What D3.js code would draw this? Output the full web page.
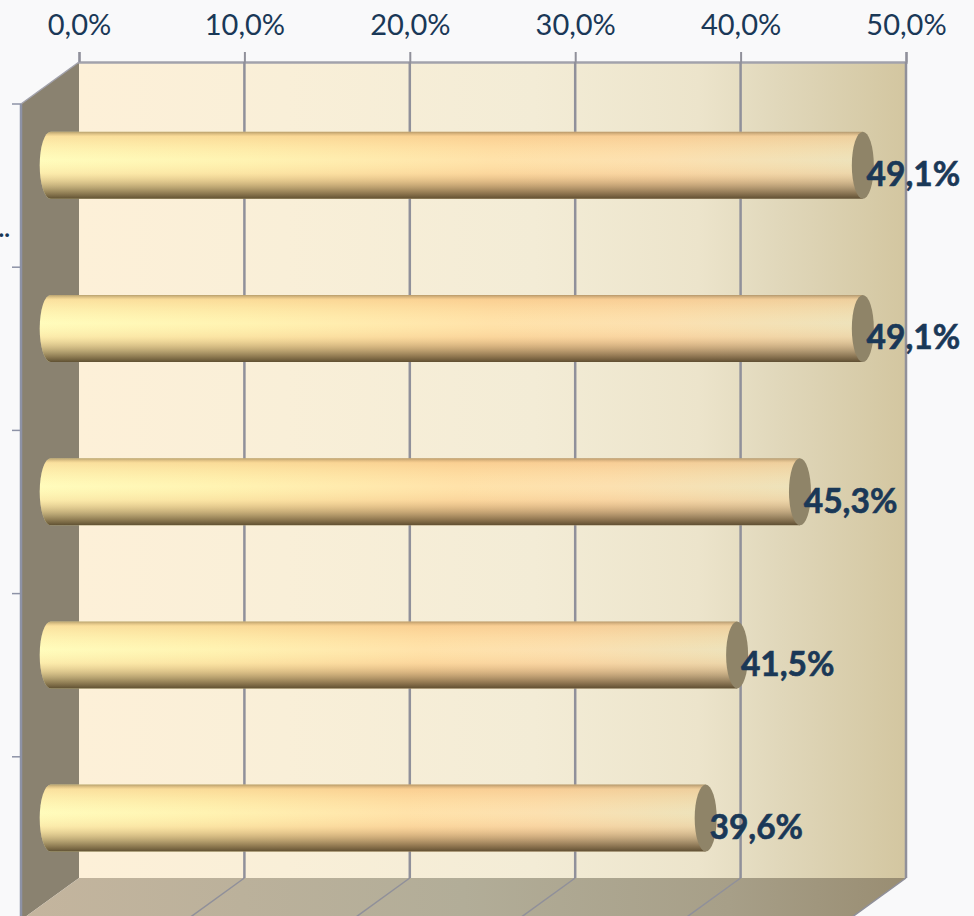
<!DOCTYPE html>
<html>
<head>
<meta charset="utf-8">
<script src="https://cdn.jsdelivr.net/npm/d3@7"></script>
<style>
	html, body { margin: 0; padding: 0; background: #f9f9fa; overflow: hidden; }
	svg { display: block; }
	text { font-family: Lato, "Open Sans", sans-serif; fill: #1a3857; }
</style>
</head>
<body>
<div class="svg-container"></div>
<script>
(function () {

	"use strict";

	// data
	var categories = [ "a", "b", "c", "d", "e" ];
	var category_labels = [ "..", "", "", "", "" ];
	var values = [ 49.1, 49.1, 45.3, 41.5, 39.6 ];
	var axis_ticks = [ 0, 10, 20, 30, 40, 50 ];

	// layout
	var width = 974, height = 916;
	var plot = { left: 79, right: 906, top: 62, bottom: 878 };
	var depth = { x: -58, y: 42 };
	var bar_half = 33.5, cap_rx = 11;
	var grid_color = "#90909a";

	var locale = d3.formatLocale({ decimal: ",", thousands: ".", grouping: [3], currency: ["", ""] });
	var fmt = locale.format(".1f");

	var svg = d3.select(".svg-container").append("svg")
		.attr("width", width)
		.attr("height", height);

	var x = d3.scaleLinear().domain([0, 50]).range([plot.left, plot.right]);
	var y = d3.scaleBand().domain(categories).range([plot.top, plot.bottom]);

	// gradients
	var defs = svg.append("defs");

	function gradient ( id, x2, y2, stops ) {
		var g = defs.append("linearGradient")
			.attr("id", id)
			.attr("x1", 0).attr("y1", 0)
			.attr("x2", x2).attr("y2", y2);
		stops.forEach(function ( s ) {
			var st = g.append("stop").attr("offset", s[0]).attr("stop-color", s[1]);
			if ( s[2] !== undefined ) st.attr("stop-opacity", s[2]);
		});
	}

	gradient("wall", 1, 0, [
		[0, "#fdf0d8"], [.25, "#f9efd8"], [.55, "#f3ecd6"], [.75, "#ece4cb"], [.85, "#e0d7ba"], [1, "#d3c6a0"]
	]);
	gradient("floor", 1, 0, [
		[0, "#c4b59e"], [.5, "#b2ad98"], [.8, "#a79f88"], [1, "#998d72"]
	]);
	gradient("tube_h", 1, 0, [
		[0, "#fffcbc"], [.25, "#fff3b2"], [.55, "#ffe2aa"], [.75, "#fce0b0"], [1, "#ede2bb"]
	]);
	gradient("tube_v", 0, 1, [
		[0, "#8a6a40", .62], [.07, "#f0a860", .32], [.42, "#ffcf80", 0], [.62, "#e8a060", .18],
		[.85, "#6a4a28", .52], [1, "#4a3a20", .88]
	]);

	// walls
	svg.append("rect")
		.attr("x", plot.left).attr("y", plot.top)
		.attr("width", plot.right - plot.left).attr("height", plot.bottom - plot.top)
		.attr("fill", "url(#wall)");

	svg.append("path")
		.attr("d", d3.line()([
			[plot.left, plot.top], [plot.left, plot.bottom],
			[plot.left + depth.x, plot.bottom + depth.y], [plot.left + depth.x, plot.top + depth.y]
		]) + "Z")
		.attr("fill", "#8a8270");

	svg.append("path")
		.attr("d", d3.line()([
			[plot.left, plot.bottom], [plot.right, plot.bottom],
			[plot.right + depth.x, plot.bottom + depth.y], [plot.left + depth.x, plot.bottom + depth.y]
		]) + "Z")
		.attr("fill", "url(#floor)");

	// top axis and grid
	var axis = svg.append("g")
		.attr("transform", "translate(0," + plot.top + ")")
		.call(d3.axisTop(x).tickValues(axis_ticks).tickSize(10).tickPadding(17)
			.tickFormat(function ( d ) { return fmt(d) + "%"; }));

	axis.select(".domain").attr("stroke", "#a2a2ac").attr("stroke-width", 2.5);
	axis.selectAll("line").attr("stroke", grid_color).attr("stroke-width", 2);
	axis.selectAll("text").attr("font-size", 29).style("fill", "#1a3857");

	var grid = svg.append("g");
	var grid_ticks = axis_ticks.filter(function ( d ) { return d > 0; });

	grid.selectAll(".grid")
		.data(grid_ticks)
		.enter()
		.append("line")
		.attr("class", "grid")
		.attr("x1", function ( d ) { return x(d); })
		.attr("x2", function ( d ) { return x(d); })
		.attr("y1", plot.top)
		.attr("y2", plot.bottom)
		.attr("stroke", grid_color)
		.attr("stroke-width", 2.5);

	grid.selectAll(".grid-floor")
		.data(grid_ticks)
		.enter()
		.append("line")
		.attr("class", "grid-floor")
		.attr("x1", function ( d ) { return x(d); })
		.attr("x2", function ( d ) { return x(d) + depth.x; })
		.attr("y1", plot.bottom)
		.attr("y2", plot.bottom + depth.y)
		.attr("stroke", grid_color)
		.attr("stroke-width", 1.5);

	// left axis, sits on the front edge of the side wall
	var left_x = plot.left + depth.x;

	svg.append("line")
		.attr("x1", left_x).attr("x2", left_x)
		.attr("y1", plot.top + depth.y).attr("y2", plot.bottom + depth.y)
		.attr("stroke", "#8d92a6").attr("stroke-width", 2.5);

	svg.append("line")
		.attr("x1", left_x).attr("x2", plot.left)
		.attr("y1", plot.top + depth.y).attr("y2", plot.top)
		.attr("stroke", "#a2a2ac").attr("stroke-width", 1.5);

	svg.selectAll(".cat-tick")
		.data(categories)
		.enter()
		.append("line")
		.attr("class", "cat-tick")
		.attr("x1", left_x - 9)
		.attr("x2", left_x)
		.attr("y1", function ( d ) { return y(d) + depth.y; })
		.attr("y2", function ( d ) { return y(d) + depth.y; })
		.attr("stroke", "#8d92a6")
		.attr("stroke-width", 1.5);

	svg.selectAll(".cat-label")
		.data(categories)
		.enter()
		.append("text")
		.attr("class", "cat-label")
		.attr("x", 10)
		.attr("y", function ( d ) { return y(d) + y.bandwidth() / 2 + depth.y + 51; })
		.attr("text-anchor", "end")
		.attr("font-size", 24)
		.attr("font-weight", 700)
		.text(function ( d, i ) { return category_labels[i]; });

	// bars sit half way into the depth
	var mid = { x: depth.x / 2 + .7, y: depth.y / 2 + .7 };

	var bars = svg.selectAll(".bar")
		.data(categories)
		.enter()
		.append("g")
		.attr("class", "bar")
		.attr("transform", function ( d ) {
			return "translate(" + mid.x + "," + ( y(d) + y.bandwidth() / 2 + mid.y ) + ")";
		});

	function tubePath ( d, i ) {
		var x0 = x(0), x1 = x(values[i]);
		return "M" + x0 + "," + (-bar_half) +
			"L" + x1 + "," + (-bar_half) +
			"L" + x1 + "," + bar_half +
			"L" + x0 + "," + bar_half +
			"A" + cap_rx + "," + bar_half + " 0 0 1 " + x0 + "," + (-bar_half) + "Z";
	}

	bars.append("path").attr("d", tubePath).attr("fill", "url(#tube_h)");
	bars.append("path").attr("d", tubePath).attr("fill", "url(#tube_v)");

	bars.append("ellipse")
		.attr("cx", function ( d, i ) { return x(values[i]); })
		.attr("cy", 0)
		.attr("rx", cap_rx)
		.attr("ry", bar_half)
		.attr("fill", "#8f8468");

	// value labels
	svg.selectAll(".value")
		.data(categories)
		.enter()
		.append("text")
		.attr("class", "value")
		.attr("x", function ( d, i ) { return x(values[i]) + depth.x / 2 + 4.5; })
		.attr("y", function ( d ) { return y(d) + y.bandwidth() / 2 + depth.y / 2 + 21.5; })
		.attr("font-size", 33.5)
		.attr("font-weight", 700)
		.attr("stroke", "#1a3857")
		.attr("stroke-width", .6)
		.text(function ( d, i ) { return fmt(values[i]) + "%"; });

})();
</script>
</body>
</html>
